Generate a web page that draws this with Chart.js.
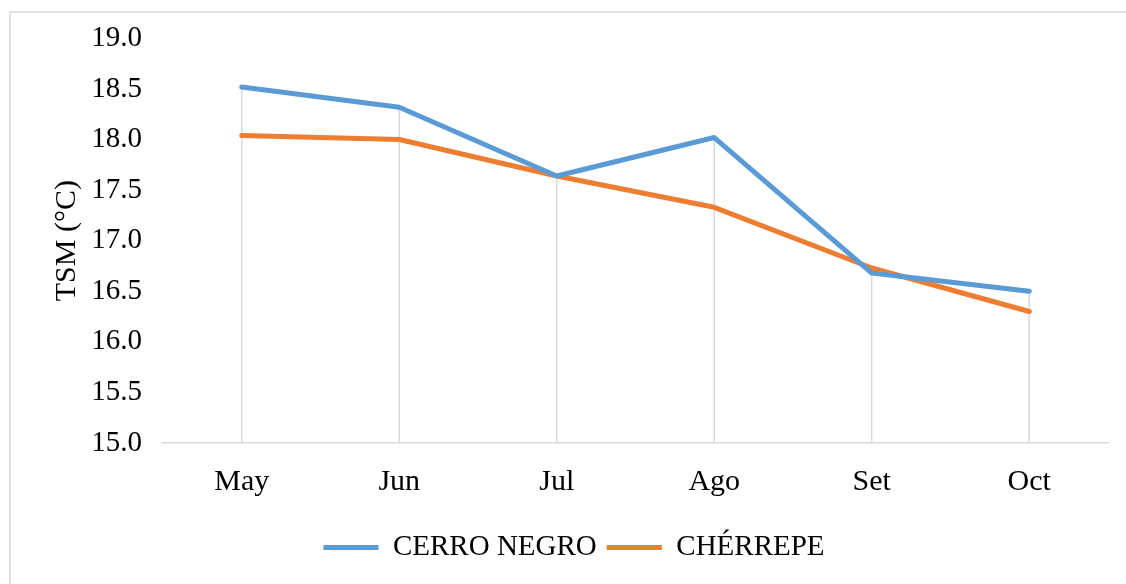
<!DOCTYPE html>
<html>
<head>
<meta charset="utf-8">
<script src="https://cdn.jsdelivr.net/npm/chart.js@4.4.1/dist/chart.umd.min.js"></script>
<style>
  html, body { margin: 0; padding: 0; background: #ffffff; overflow: hidden; }
  #wrap { position: relative; width: 1126px; height: 584px; }
  #frame { position: absolute; left: 9px; top: 11px; width: 1300px; height: 800px;
           border: 2px solid #e2e2e2; box-sizing: border-box; }
  canvas { position: absolute; left: 0; top: 0; }
</style>
</head>
<body>
<div id="wrap">
  <div id="frame"></div>
  <canvas id="chart" width="1126" height="584"></canvas>
</div>
<script>
// Monthly sea surface temperature (TSM) at two stations
const months = ["May", "Jun", "Jul", "Ago", "Set", "Oct"];
const cerroNegro = [18.52, 18.32, 17.64, 18.02, 16.68, 16.50];
const cherrepe = [18.04, 18.00, 17.64, 17.33, 16.73, 16.30];
const yMin = 15.0;
const yMax = 19.0;
const yStep = 0.5;

const serif = "'Liberation Serif', 'Times New Roman', serif";

// Vertical drop lines from the highest series value down to the category axis
const dropLines = {
  id: "dropLines",
  beforeDatasetsDraw(chart) {
    const { ctx, chartArea, scales } = chart;
    const xs = scales.x, ys = scales.y;
    ctx.save();
    ctx.strokeStyle = "#d9d9d9";
    ctx.lineWidth = 1.5;
    months.forEach((m, i) => {
      const top = Math.max(...chart.data.datasets.map(d => d.data[i]));
      const x = xs.getPixelForValue(i);
      ctx.beginPath();
      ctx.moveTo(x, ys.getPixelForValue(top));
      ctx.lineTo(x, chartArea.bottom);
      ctx.stroke();
    });
    ctx.restore();
  }
};

new Chart(document.getElementById("chart"), {
  type: "line",
  data: {
    labels: months,
    datasets: [
      { label: "CERRO NEGRO", data: cerroNegro, borderColor: "#5B9BD5", backgroundColor: "#5B9BD5" },
      { label: "CHÉRREPE", data: cherrepe, borderColor: "#ED7D31", backgroundColor: "#ED7D31" }
    ]
  },
  options: {
    responsive: false,
    animation: false,
    devicePixelRatio: 1,
    layout: { padding: { left: 40, top: 36, right: 18, bottom: 12 } },
    elements: {
      line: { borderWidth: 5, tension: 0, borderJoinStyle: "round", borderCapStyle: "round" },
      point: { radius: 0, hoverRadius: 0 }
    },
    scales: {
      x: {
        offset: true,
        grid: { display: false },
        border: { display: true, color: "#d9d9d9", width: 1.5 },
        ticks: { color: "#000", font: { family: serif, size: 30 }, padding: 13 },
        afterFit(s) { s.height = 80; }
      },
      y: {
        min: yMin,
        max: yMax,
        grid: { display: false, drawTicks: false },
        border: { display: false },
        ticks: {
          stepSize: yStep,
          color: "#000",
          padding: 21,
          font: { family: serif, size: 29 },
          callback: v => v.toFixed(1)
        },
        title: {
          display: true,
          text: "TSM (°C)",
          color: "#000",
          font: { family: serif, size: 30 },
          padding: { top: 9, bottom: 0 }
        },
        afterFit(s) { s.width = 123; }
      }
    },
    plugins: {
      tooltip: { enabled: false },
      legend: {
        position: "bottom",
        labels: {
          color: "#000",
          font: { family: serif, size: 29 },
          boxWidth: 55,
          boxHeight: 5,
          padding: 10,
          useBorderRadius: true,
          borderRadius: 2.5,
          generateLabels(chart) {
            return chart.data.datasets.map((d, i) => ({
              text: d.label,
              fillStyle: d.borderColor,
              strokeStyle: d.borderColor,
              lineWidth: 0,
              fontColor: "#000",
              datasetIndex: i,
              hidden: false
            }));
          }
        }
      }
    }
  },
  plugins: [dropLines]
});
</script>
</body>
</html>
